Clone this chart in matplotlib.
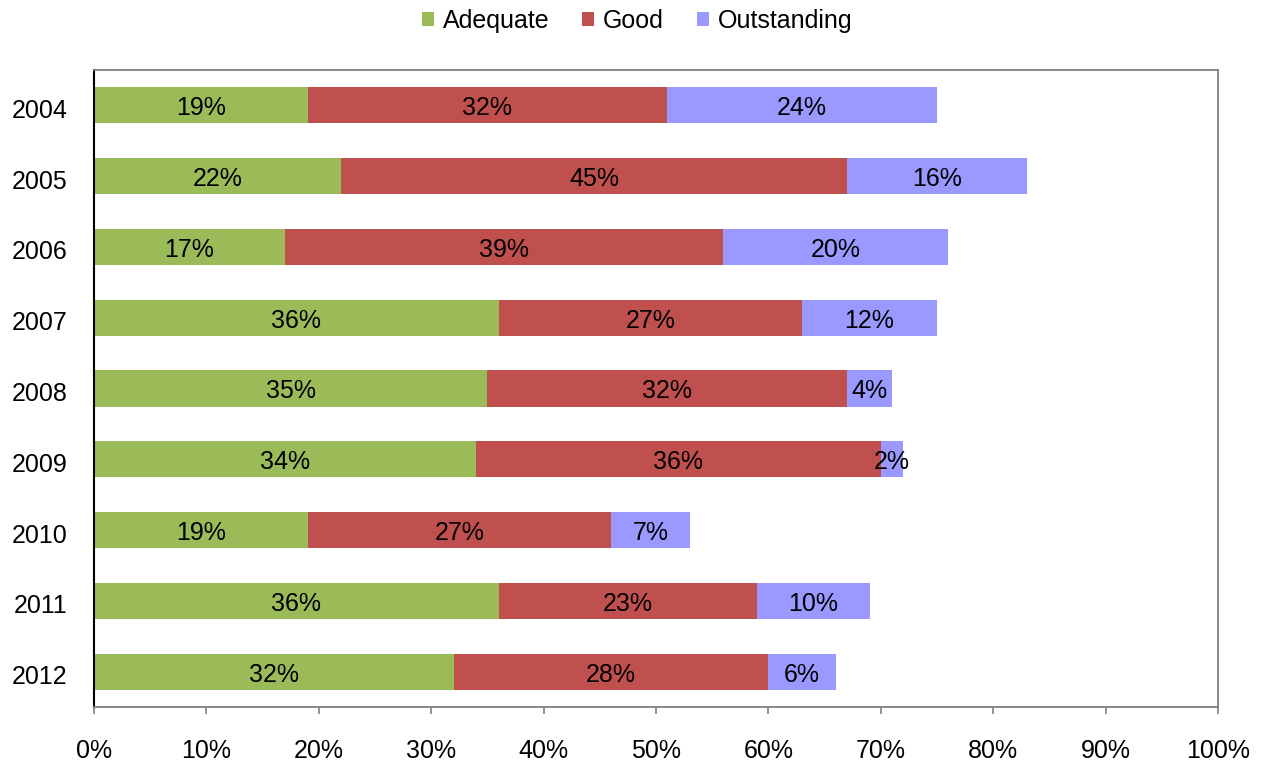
import matplotlib
matplotlib.use("Agg")
import matplotlib.pyplot as plt
import matplotlib.transforms as mtransforms
import numpy as np

# data
years = ["2004", "2005", "2006", "2007", "2008", "2009", "2010", "2011", "2012"]
adequate = [19, 22, 17, 36, 35, 34, 19, 36, 32]
good = [32, 45, 39, 27, 32, 36, 27, 23, 28]
outstanding = [24, 16, 20, 12, 4, 2, 7, 10, 6]

series_names = ["Adequate", "Good", "Outstanding"]
colors = ["#9BBB59", "#C0504D", "#9999FF"]

plt.rcParams["font.family"] = ["Liberation Sans", "DejaVu Sans"]
fs = 18

fig = plt.figure(figsize=(12.68, 7.65), dpi=100)
ax = fig.add_axes([94 / 1268, 1 - 707 / 765, 1124 / 1268, 637 / 765])

# text sits a few pixels below the bar centre in the original
shift = mtransforms.ScaledTranslation(0, -3 / 100, fig.dpi_scale_trans)

y = np.arange(len(years))
left = np.zeros(len(years))
for name, vals, col in zip(series_names, [adequate, good, outstanding], colors):
    vals = np.array(vals, dtype=float)
    ax.barh(y, vals, left=left, height=0.51, color=col, label=name)
    for yi, l, v in zip(y, left, vals):
        ax.text(l + v / 2, yi, f"{int(v)}%", ha="center", va="center",
                fontsize=fs, color="black", transform=ax.transData + shift)
    left = left + vals

ax.set_xlim(0, 100)
ax.set_ylim(8.5, -0.5)
ax.set_xticks(np.arange(0, 101, 10))
ax.set_xticklabels([f"{t}%" for t in range(0, 101, 10)], fontsize=fs)
# no y tick marks, so nudge the year labels down a touch to match
ax.set_yticks(y + 0.042)
ax.set_yticklabels(years, fontsize=fs)

ax.tick_params(axis="x", direction="out", length=5, width=1.2, color="#808080", pad=18)
ax.tick_params(axis="y", length=0, pad=19)

for side in ["top", "right", "bottom"]:
    ax.spines[side].set_color("#808080")
    ax.spines[side].set_linewidth(1.3)
ax.spines["left"].set_color("black")
ax.spines["left"].set_linewidth(1.5)

fig.legend(loc="center", bbox_to_anchor=(637 / 1268, 1 - 21 / 765), ncol=3,
           frameon=False, fontsize=fs, handlelength=0.5, handleheight=0.5,
           handletextpad=0.35, columnspacing=1.3)

fig.savefig("out.png", dpi=100)
